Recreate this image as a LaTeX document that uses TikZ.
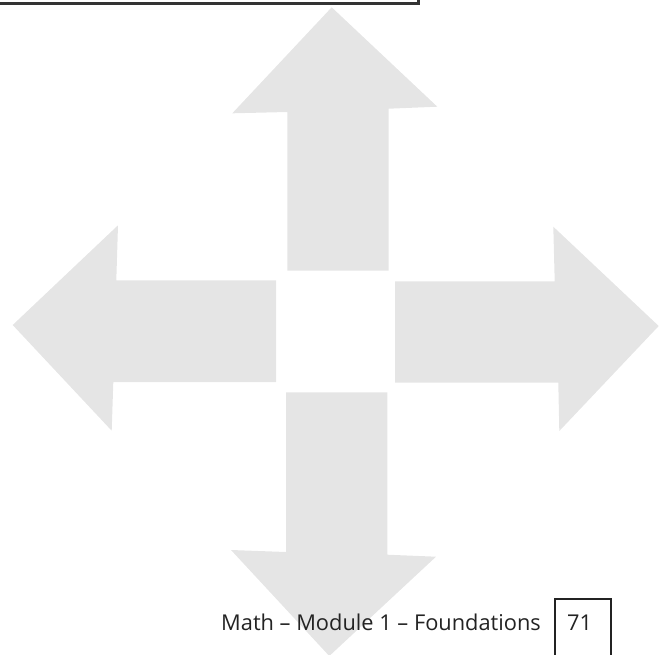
\documentclass[tikz,border=0pt]{standalone}
\usepackage{fontspec}
\setmainfont{Open Sans}
\definecolor{arrowgray}{RGB}{229,229,229}
\definecolor{inkgray}{RGB}{35,35,35}
\tikzset{
  bigarrow/.style={fill=arrowgray, draw=none},
  footer/.style={font=\fontsize{21.8}{26}\selectfont, text=inkgray, inner sep=0pt}
}
\begin{document}
\begin{tikzpicture}[x=1pt,y=-1pt]
  \useasboundingbox (0,0) rectangle (661,654);
  % edge of the box above
  \draw[line width=3pt, black!80] (-5,3.7) -- (418,3.7) -- (418,-5);
  % up
  \fill[bigarrow] (331.7,7.3) -- (437.3,106.7) -- (388.7,108.7) -- (388.7,270.7)
    -- (287.3,270.7) -- (287.3,112) -- (232.3,113.3) -- cycle;
  % down
  \fill[bigarrow] (329.3,656) -- (436,556.7) -- (387.3,554.7) -- (387.3,392.3)
    -- (286,392.3) -- (286,552) -- (231,550) -- cycle;
  % left
  \fill[bigarrow] (12.7,325) -- (118,225.3) -- (116.3,280.3) -- (276,280.3)
    -- (276,382) -- (113.3,382) -- (111.7,430.7) -- cycle;
  % right
  \fill[bigarrow] (658.7,326) -- (553.3,226.7) -- (554.7,281.3) -- (395,281.3)
    -- (395,382.7) -- (558.3,382.7) -- (559.3,431) -- cycle;
  % footer
  \node[footer, anchor=base west] (title) at (221,630.5) {Math – Module 1 – Foundations};
  \draw[line width=1.2pt, inkgray] (555,660) -- (555,599) -- (611,599) -- (611,660);
  \node[footer, anchor=base] (pagenum) at (579.5,630.5) {71};
\end{tikzpicture}
\end{document}
